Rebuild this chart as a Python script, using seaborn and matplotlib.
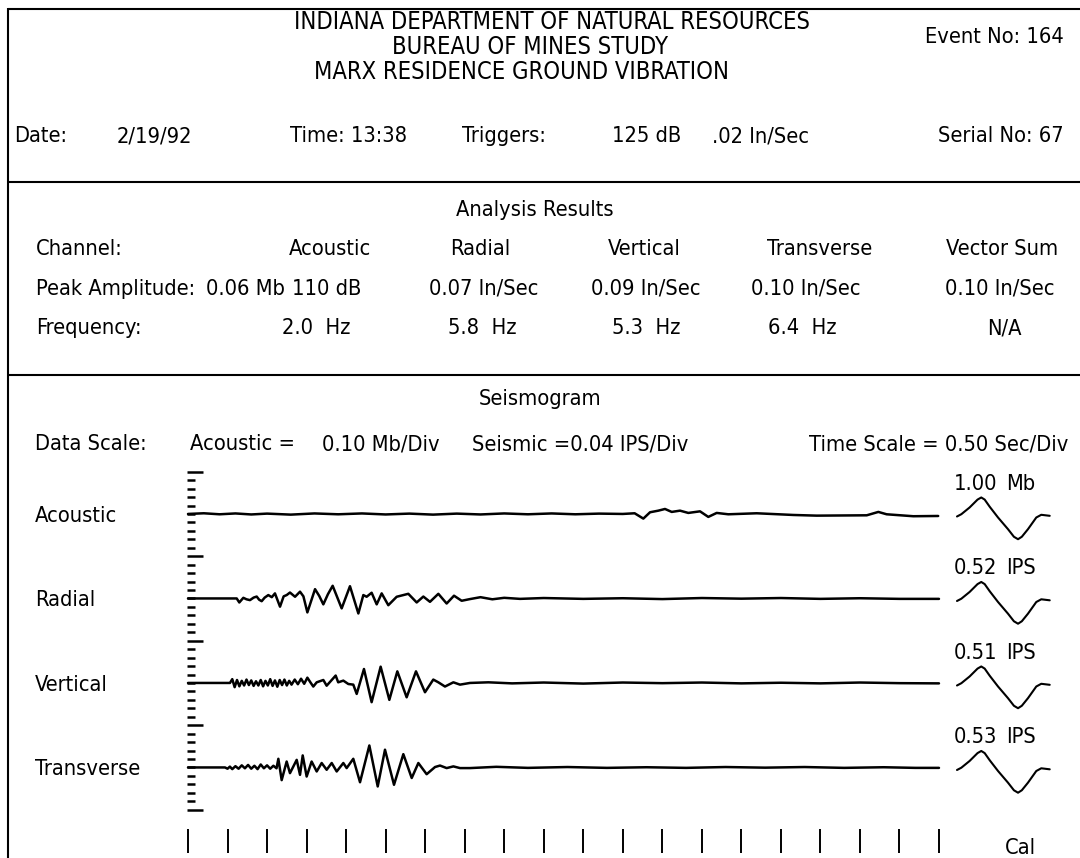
import numpy as np
import matplotlib
matplotlib.use("Agg")
import matplotlib.pyplot as plt
import seaborn as sns
from matplotlib import font_manager
from matplotlib.font_manager import FontProperties

# ------------------------------------------------------------------ data
channels = ["Acoustic", "Radial", "Vertical", "Transverse"]

# Acoustic trace: time (s) and pressure (Mb)
acoustic_t = [0.0, 0.2, 0.4, 0.6, 0.8, 1.0, 1.3, 1.6, 1.9, 2.2, 2.5, 2.8, 3.1, 3.4,
              3.7, 4.0, 4.3, 4.6, 4.9, 5.2, 5.5, 5.65, 5.76, 5.845, 5.95, 6.034,
              6.119, 6.224, 6.329, 6.477, 6.582, 6.688, 6.835, 7.194, 7.657,
              7.953, 8.586, 8.733, 8.838, 9.175, 9.49]
acoustic_mb = [0.0, 0.008, -0.004, 0.006, -0.006, 0.004, -0.008, 0.006, -0.004,
               0.006, -0.006, 0.004, -0.008, 0.004, -0.006, 0.006, -0.004, 0.006,
               -0.004, 0.004, 0.0, 0.008, -0.055, 0.020, 0.039, 0.059, 0.024,
               0.039, 0.012, 0.031, -0.035, 0.012, -0.004, 0.008, -0.012, -0.020,
               -0.016, 0.024, -0.004, -0.027, -0.024]

# Radial trace: time (s) and particle velocity (in/s)
radial_t = [0.0, 0.616, 0.649, 0.70, 0.74, 0.784, 0.83, 0.869, 0.90, 0.932, 0.97,
            1.016, 1.06, 1.10, 1.164, 1.21, 1.248, 1.29, 1.354, 1.417, 1.46, 1.51,
            1.607, 1.66, 1.712, 1.77, 1.83, 1.944, 2.049, 2.155, 2.218, 2.26, 2.323,
            2.387, 2.45, 2.534, 2.64, 2.787, 2.893, 2.977, 3.061, 3.167, 3.272,
            3.365, 3.462, 3.567, 3.7, 3.85, 4.0, 4.2, 4.5, 5.0, 5.5, 6.0, 6.5, 7.0,
            7.5, 8.0, 8.5, 9.0, 9.5]
radial_ips = [0.0, 0.0, -0.019, 0.003, -0.004, -0.008, 0.004, 0.009, -0.006, -0.013,
              0.004, 0.016, 0.006, 0.024, -0.039, 0.010, 0.016, 0.028, 0.008, 0.032,
              0.010, -0.066, 0.044, 0.012, -0.028, 0.020, 0.060, -0.047, 0.058,
              -0.071, 0.016, 0.008, 0.027, -0.028, 0.024, -0.032, 0.008, 0.022,
              -0.019, 0.009, -0.016, 0.022, -0.024, 0.013, -0.011, -0.003, 0.006,
              -0.004, 0.003, -0.002, 0.002, -0.002, 0.001, -0.003, 0.002, -0.001,
              0.002, -0.002, 0.001, -0.002, -0.002]

# Vertical trace: time (s) and particle velocity (in/s)
vertical_t = [0.0, 0.531, 0.56, 0.59, 0.62, 0.65, 0.68, 0.71, 0.74, 0.77, 0.80, 0.83,
              0.86, 0.89, 0.92, 0.95, 0.98, 1.01, 1.04, 1.07, 1.10, 1.13, 1.16,
              1.19, 1.22, 1.25, 1.28, 1.31, 1.35, 1.39, 1.43, 1.47, 1.51, 1.55,
              1.585, 1.628, 1.712, 1.754, 1.868, 1.90, 1.965, 2.028, 2.091, 2.134,
              2.226, 2.323, 2.437, 2.547, 2.648, 2.766, 2.884, 2.998, 3.103, 3.167,
              3.251, 3.357, 3.441, 3.567, 3.8, 4.1, 4.5, 5.0, 5.5, 6.0, 6.5, 7.0,
              7.5, 8.0, 8.5, 9.0, 9.5]
vertical_ips = [0.0, 0.0, 0.018, -0.020, 0.014, -0.016, 0.010, -0.012, 0.016, -0.010,
                0.012, -0.014, 0.008, -0.012, 0.014, -0.016, 0.010, -0.012, 0.018,
                -0.014, 0.012, -0.018, 0.014, -0.010, 0.016, -0.012, 0.010, -0.008,
                0.016, -0.006, 0.020, -0.004, 0.025, 0.002, -0.017, 0.003, 0.014,
                -0.013, 0.035, 0.003, 0.011, -0.005, -0.008, -0.052, 0.066, -0.091,
                0.077, -0.080, 0.055, -0.068, 0.055, -0.044, 0.016, 0.003, -0.017,
                0.003, -0.008, 0.0, 0.003, -0.002, 0.002, -0.003, 0.002, -0.001,
                0.002, -0.002, 0.001, -0.002, 0.002, -0.001, -0.002]

# Transverse trace: time (s) and particle velocity (in/s)
transverse_t = [0.0, 0.468, 0.50, 0.53, 0.56, 0.60, 0.64, 0.68, 0.72, 0.76, 0.80,
                0.84, 0.88, 0.92, 0.96, 1.00, 1.04, 1.08, 1.12, 1.143, 1.185, 1.248,
                1.29, 1.375, 1.417, 1.451, 1.501, 1.564, 1.628, 1.691, 1.754, 1.818,
                1.881, 1.965, 2.007, 2.091, 2.176, 2.294, 2.40, 2.492, 2.606, 2.724,
                2.83, 2.914, 3.019, 3.125, 3.188, 3.272, 3.357, 3.441, 3.567, 3.9,
                4.3, 4.8, 5.3, 5.8, 6.3, 6.8, 7.3, 7.8, 8.3, 8.8, 9.2, 9.5]
transverse_ips = [0.0, 0.0, -0.006, 0.004, -0.008, 0.006, -0.006, 0.010, -0.004,
                  0.012, -0.006, 0.008, -0.008, 0.014, -0.004, 0.010, -0.006, 0.008,
                  -0.004, 0.041, -0.060, 0.028, -0.027, 0.036, -0.035, 0.057, -0.043,
                  0.028, -0.019, 0.021, -0.011, 0.021, -0.019, 0.021, -0.003, 0.041,
                  -0.070, 0.104, -0.090, 0.084, -0.082, 0.063, -0.050, 0.021, -0.032,
                  0.002, 0.009, -0.003, 0.005, -0.003, -0.003, 0.003, -0.002, 0.002,
                  -0.002, 0.001, -0.002, 0.002, -0.001, 0.002, -0.002, 0.001, -0.002,
                  -0.002]

# Calibration pulse shape: time from pulse start (s) and height (divisions)
cal_t = [0.0, 0.055, 0.16, 0.26, 0.307, 0.35, 0.414, 0.519, 0.645, 0.72, 0.772,
         0.82, 0.898, 1.003, 1.066, 1.173]
cal_div = [0.0, 0.27, 1.07, 2.0, 2.25, 2.0, 1.15, -0.12, -1.5, -2.4, -2.69, -2.4,
           -1.5, -0.12, 0.2, 0.08]
cal_values = ["1.00", "0.52", "0.51", "0.53"]
cal_units = ["Mb", "IPS", "IPS", "IPS"]

# Analysis table
table_channels = ["Acoustic", "Radial", "Vertical", "Transverse", "Vector Sum"]
peak_amplitudes = ["0.07 In/Sec", "0.09 In/Sec", "0.10 In/Sec", "0.10 In/Sec"]
acoustic_peak = ["0.06 Mb", "110 dB"]
frequencies = ["2.0  Hz", "5.8  Hz", "5.3  Hz", "6.4  Hz", "N/A"]

# Scales
acoustic_scale = 0.10   # Mb / division
seismic_scale = 0.04    # in/s / division
time_div = 0.50         # s / division
n_time_ticks = 20

# ------------------------------------------------------------------ layout
W, H = 1080, 858
X0 = 188.0          # px of t = 0
PX_S = 79.05        # px per second
Y0 = 640.7          # px of division 0
PX_DIV = 8.45       # px per division
offsets = [15, 5, -5, -15]
CAL_START = 9.728

sns.set_style("white")


def choose_font_file():
    tl = font_manager.fontManager.ttflist

    def regular(f):
        return f.style == "normal" and f.weight in (400, "normal", "regular", "book")

    prefs = [
        lambda f: f.name == "Liberation Sans Narrow",
        lambda f: f.name == "DejaVu Sans" and "condensed" in str(f.stretch),
        lambda f: f.name.startswith("Roboto") and "Condensed" in f.name,
        lambda f: ("condensed" in str(f.stretch) or "Condensed" in f.name
                   or "Narrow" in f.name) and "Mono" not in f.name
                  and "Serif" not in f.name and "CJK" not in f.name,
        lambda f: f.name == "Roboto",
        lambda f: f.name == "DejaVu Sans",
    ]
    for p in prefs:
        c = [f for f in tl if p(f) and regular(f)]
        if c:
            return c[0].fname
    return None


font_file = choose_font_file()
plt.rcParams["font.family"] = ["DejaVu Sans"]

fig = plt.figure(figsize=(W / 100, H / 100), dpi=100)
fig.patch.set_facecolor("white")

if font_file:
    FP = FontProperties(fname=font_file)
else:
    FP = FontProperties(family="DejaVu Sans")
renderer = fig.canvas.get_renderer()
FP.set_size(20)
w_ref, _, _ = renderer.get_text_width_height_descent("Peak Amplitude:", FP, ismath=False)
FS = min(20.0, 20.0 * 159.0 / w_ref)
FP.set_size(FS)
FP_T = FP.copy()
FP_T.set_size(FS * 1.09)

# data axes: seconds horizontally, divisions vertically
ax = fig.add_axes([0, 0, 1, 1])
ax.set_xlim(-X0 / PX_S, (W - X0) / PX_S)
ax.set_ylim((Y0 - H) / PX_DIV, Y0 / PX_DIV)
ax.axis("off")

traces = [(acoustic_t, acoustic_mb, acoustic_scale),
          (radial_t, radial_ips, seismic_scale),
          (vertical_t, vertical_ips, seismic_scale),
          (transverse_t, transverse_ips, seismic_scale)]

for (tt, vv, sc), off in zip(traces, offsets):
    y = off + np.asarray(vv) / sc
    sns.lineplot(x=np.asarray(tt), y=y, ax=ax, color="black", linewidth=1.8,
                 estimator=None, sort=False, legend=False)
    sns.lineplot(x=CAL_START + np.asarray(cal_t), y=off - 0.3 + np.asarray(cal_div),
                 ax=ax, color="black", linewidth=1.5, estimator=None, sort=False,
                 legend=False)

# amplitude division marks
divs = np.arange(-20, 21)
long_marks = divs % 10 == 0
ax.hlines(divs[~long_marks], -0.013, 0.088, color="black", linewidth=1.8)
ax.hlines(divs[long_marks], -0.013, 0.19, color="black", linewidth=1.8)

# time division marks
tticks = np.arange(n_time_ticks) * time_div
ax.vlines(tticks, (Y0 - 829) / PX_DIV, (Y0 - 853) / PX_DIV, color="black", linewidth=1.4)

# text / frame overlay in pixels
at = fig.add_axes([0, 0, 1, 1], facecolor="none")
at.set_xlim(0, W)
at.set_ylim(H, 0)
at.axis("off")

for xs, ys in [([8, 8], [8, H]), ([8, W], [9, 9]), ([8, W], [182, 182]),
               ([8, W], [375, 375])]:
    at.plot(xs, ys, color="black", linewidth=1.5, solid_capstyle="butt")


def txt(x, y, s, ha="left", fp=None):
    at.text(x, y, s, ha=ha, va="center", fontproperties=fp or FP, color="black")


# header
txt(552, 22, "INDIANA DEPARTMENT OF NATURAL RESOURCES", "center", FP_T)
txt(530, 47, "BUREAU OF MINES STUDY", "center", FP_T)
txt(522, 72, "MARX RESIDENCE GROUND VIBRATION", "center", FP_T)
txt(1064, 37, "Event No: 164", "right")
txt(14, 136, "Date:")
txt(117, 136, "2/19/92")
txt(290, 136, "Time: 13:38")
txt(462, 136, "Triggers:")
txt(612, 136, "125 dB")
txt(712, 136, ".02 In/Sec")
txt(1064, 136, "Serial No: 67", "right")

# analysis
txt(535, 210, "Analysis Results", "center")
txt(36, 249, "Channel:")
for name, cx in zip(table_channels, [330, 480, 644, 820, 1002]):
    txt(cx, 249, name, "center")
txt(36, 289, "Peak Amplitude:")
txt(206, 289, acoustic_peak[0])
txt(292, 289, acoustic_peak[1])
for val, cx in zip(peak_amplitudes, [484, 646, 806, 1000]):
    txt(cx, 289, val, "center")
txt(36, 328, "Frequency:")
for val, cx in zip(frequencies, [316, 482, 646, 802, 1004]):
    txt(cx, 328, val, "center")

# seismogram
txt(540, 399, "Seismogram", "center")
txt(35, 444, "Data Scale:")
txt(190, 444, "Acoustic =")
txt(322, 444, f"{acoustic_scale:.2f} Mb/Div")
txt(472, 444, f"Seismic ={seismic_scale:.2f} IPS/Div")
txt(1068, 444, f"Time Scale = {time_div:.2f} Sec/Div", "right")

for name, off, v, u in zip(channels, offsets, cal_values, cal_units):
    ypx = Y0 - off * PX_DIV
    txt(35, ypx + 2, name)
    txt(954, ypx - 30, v)
    txt(1006, ypx - 30, u)

txt(1005, 848, "Cal")

fig.savefig("out.png", dpi=100, facecolor="white")
